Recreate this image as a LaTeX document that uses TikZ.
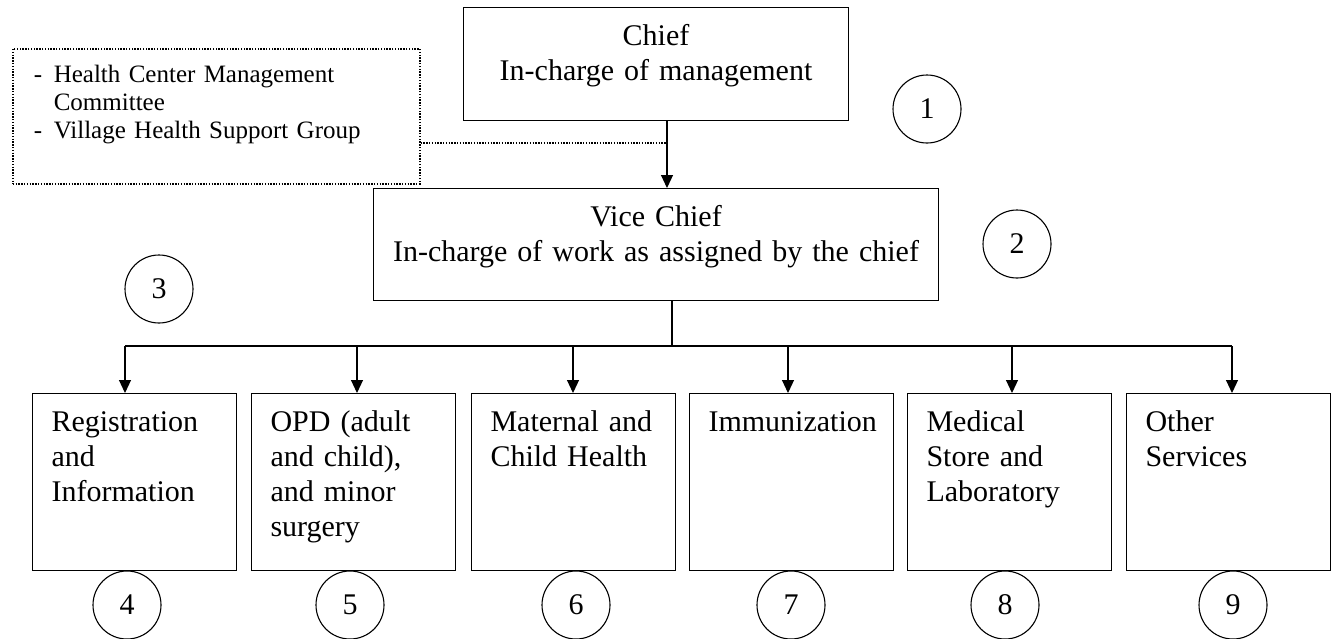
\documentclass[tikz,border=0pt]{standalone}
\usepackage{fontspec}
\setmainfont{Liberation Serif}
\usetikzlibrary{arrows.meta, positioning}
\tikzset{
  every picture/.style={font=\fontsize{30}{35}\selectfont, line width=1.1pt},
  box/.style={draw, inner xsep=20pt, inner ysep=18pt, text height=20pt, align=center, anchor=north west},
  arrow/.style={-{Triangle[length=13pt, width=12pt]}},
  link/.style={dash pattern=on 1.4pt off 1.4pt, line width=1.6pt},
  num/.style={draw, circle, minimum size=68pt, inner sep=0pt},
}
\begin{document}
\begin{tikzpicture}[x=1pt, y=-1pt,
                    unit/.style={box, align=left, inner xsep=19pt, text width=166pt, text depth=121pt},
                    panel/.style={box, link, align=left, font=\fontsize{25}{28}\selectfont, inner xsep=21pt, inner ysep=16pt, text width=365pt, text height=18pt, text depth=85pt}]
  \useasboundingbox (0,0) rectangle (1332,638);
  % chief, vice chief and the committees
  \node[box, text width=345pt, text depth=57pt] (chief) at (463,7) {Chief\\In-charge of management};
  \node[box, inner xsep=8pt, text width=549pt, text depth=56pt] (vice) at (373,188) {Vice Chief\\In-charge of work as assigned by the chief};
  \node[panel] (panel) at (12,48) {\makebox[20pt][l]{-}Health Center Management\\\hspace*{20pt}Committee\\\makebox[20pt][l]{-}Village Health Support Group};
  \coordinate (drop) at (667,143);
  \draw[arrow] (drop |- chief.south) -- (drop |- vice.north);
  \draw[link] (drop -| panel.east) -- (drop);
  % units
  \coordinate (stem) at (672,346);
  \foreach \x/\ax/\txt [count=\i from 4] in {
      32/125/{Registration\\and\\Information},
      251/357/{OPD (adult\\and child),\\and minor\\surgery},
      471/573/{Maternal and\\Child Health},
      689/788/{Immunization},
      907/1012/{Medical\\Store and\\Laboratory},
      1126/1232/{Other\\Services}} {
    \node[unit] (u\i) at (\x,393) {\txt};
    \coordinate (t\i) at (\ax,346);
    \draw[arrow] (t\i) -- (t\i |- u\i.north);
  }
  \draw (stem |- vice.south) -- (stem);
  \draw (t4) -- (t9);
  % numbers
  \foreach \n/\x/\y in {1/927/109, 2/1017/244, 3/159/289, 4/127/605, 5/350/605,
                        6/576/605, 7/791/605, 8/1005/605, 9/1233/605}
    \node[num] (n\n) at (\x,\y) {\n};
\end{tikzpicture}
\end{document}
